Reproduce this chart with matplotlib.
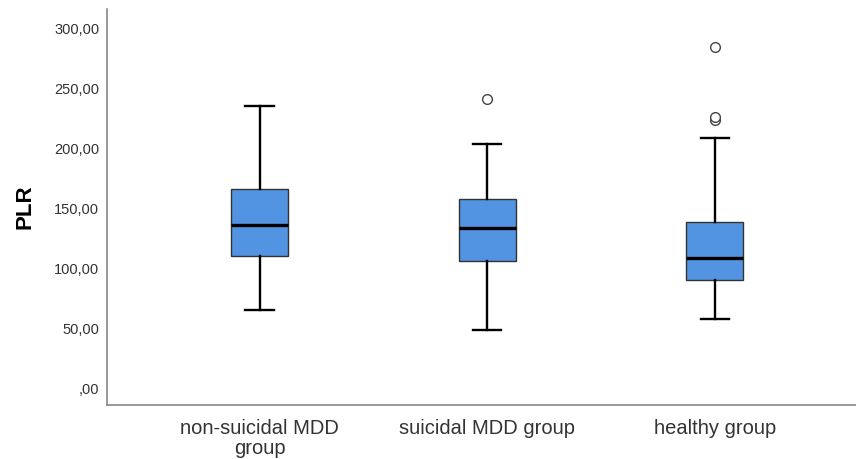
import matplotlib
matplotlib.use("Agg")
import matplotlib.pyplot as plt
from matplotlib.ticker import FuncFormatter

plt.rcParams['font.family'] = ['Liberation Sans', 'DejaVu Sans']

# groups and box statistics
groups = ["non-suicidal MDD\ngroup", "suicidal MDD group", "healthy group"]
whislo = [64.5, 47.5, 56.5]
q1 = [109.5, 105.5, 89.0]
med = [135.5, 133.0, 107.5]
q3 = [165.5, 156.5, 138.0]
whishi = [234.5, 203.0, 207.5]
fliers = [[], [240.5], [222.5, 225.0, 283.5]]

yticks = [0, 50, 100, 150, 200, 250, 300]

stats = []
for i in range(len(groups)):
    stats.append({"med": med[i], "q1": q1[i], "q3": q3[i],
                  "whislo": whislo[i], "whishi": whishi[i],
                  "fliers": fliers[i], "label": groups[i]})

fig = plt.figure(figsize=(8.56, 4.6), dpi=100)
ax = fig.add_axes([0.125, 0.117, 0.875, 0.861])

ax.bxp(stats, positions=[1, 2, 3], widths=0.25, patch_artist=True,
       boxprops=dict(facecolor="#5294e2", edgecolor="#333333", linewidth=1.0),
       medianprops=dict(color="black", linewidth=2.4),
       whiskerprops=dict(color="black", linewidth=1.7),
       capprops=dict(color="black", linewidth=1.7),
       capwidths=0.125,
       flierprops=dict(marker="o", markerfacecolor="white", markeredgecolor="#444444",
                       markersize=7, markeredgewidth=1.0))

ax.set_xlim(0.33, 3.62)
ax.set_ylim(-15, 315)
ax.set_yticks(yticks)
ax.yaxis.set_major_formatter(FuncFormatter(lambda v, p: f"{v:.2f}".replace(".", ",").lstrip("0")))
ax.tick_params(axis="y", length=0, pad=5.5, labelsize=10.5, labelcolor="#333333")
ax.tick_params(axis="x", length=0, pad=9, labelsize=14.5, labelcolor="#333333")
for lab in ax.get_xticklabels():
    lab.set_linespacing(1.1)

for side in ["top", "right"]:
    ax.spines[side].set_visible(False)
for side in ["left", "bottom"]:
    ax.spines[side].set_color("#888888")
    ax.spines[side].set_linewidth(1.2)

ax.set_ylabel("PLR", fontsize=16, fontweight="bold", color="black")
ax.yaxis.set_label_coords(-0.095, 0.503)

fig.savefig("out.png", dpi=100)
